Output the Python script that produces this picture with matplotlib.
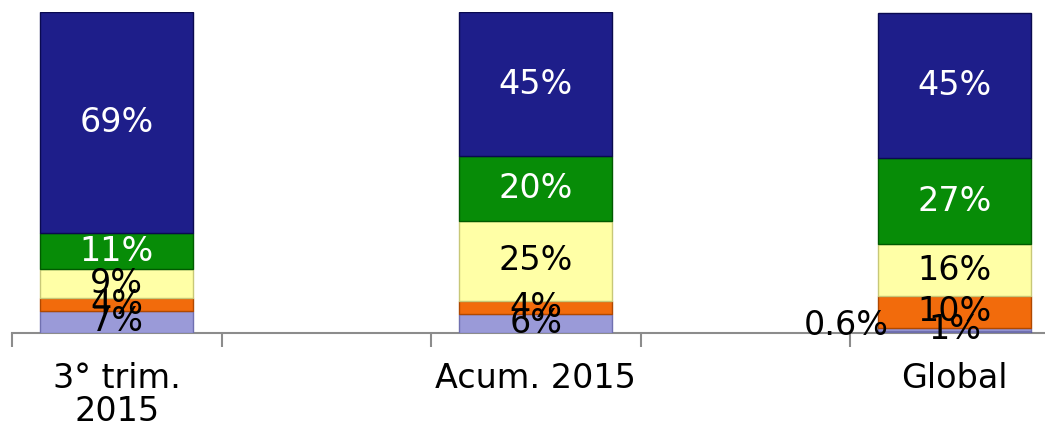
import matplotlib
matplotlib.use("Agg")
import matplotlib.pyplot as plt
import numpy as np

categories = ["3° trim.\n2015", "Acum. 2015", "Global"]
s_otros = [0, 0, 0.6]
s_lavanda = [7, 6, 1]
s_naranja = [4, 4, 10]
s_amarillo = [9, 25, 16]
s_verde = [11, 20, 27]
s_azul = [69, 45, 45]

series = [s_otros, s_lavanda, s_naranja, s_amarillo, s_verde, s_azul]
colors = ["#7a7ab8", "#9a9ad8", "#f26b0c", "#ffffa6", "#078c07", "#1e1e8a"]
edges = ["#5a5a98", "#7070b0", "#b04800", "#c8c878", "#005a00", "#0a0a50"]
text_colors = ["black", "black", "black", "black", "white", "white"]

plt.rcParams['font.family'] = ['DejaVu Sans']

W, H = 1045, 429
fig = plt.figure(figsize=(W / 100, H / 100), dpi=100)
slot = 209.5
left_px, bottom_px, top_px = 12, 333, 12
ax = fig.add_axes([left_px / W, (H - bottom_px) / H, (W - left_px) / W, (bottom_px - top_px) / H])
ax.set_xlim(-0.5, -0.5 + (W - left_px) / slot)
ax.set_ylim(0, 100)

x = np.array([0, 2, 4])
bw = 0.73
bottom = np.zeros(3)
for k, (vals, c, ec, tc) in enumerate(zip(series, colors, edges, text_colors)):
    vals = np.array(vals, dtype=float)
    ax.bar(x, vals, bw, bottom=bottom, color=c, edgecolor=ec, linewidth=1.0, zorder=3)
    for xi, b, v in zip(x, bottom, vals):
        if v <= 0:
            continue
        lbl = f"{v:g}%"
        xt = xi
        if k == 0:
            # tiny segment: label displaced to the left of the bar
            xt = xi - 0.52
            yt = 2.2
        else:
            yt = b + v / 2
        ax.text(xt, yt, lbl, ha="center", va="center", fontsize=24,
                color=tc, zorder=5)
    bottom += vals

for s in ["top", "right", "left"]:
    ax.spines[s].set_visible(False)
ax.spines["bottom"].set_color("#8c8c8c")
ax.spines["bottom"].set_linewidth(1.5)
ax.spines["bottom"].set_zorder(2)
ax.set_yticks([])
ax.set_xticks(x)
ax.set_xticklabels(categories, fontsize=24, linespacing=1.0)
ax.tick_params(axis="x", which="major", length=0, pad=21)
ax.set_xticks([-0.5, 0.5, 1.5, 2.5, 3.5], minor=True)
ax.tick_params(axis="x", which="minor", length=10, width=1.5, color="#8c8c8c")

fig.savefig("out.png", dpi=100)
